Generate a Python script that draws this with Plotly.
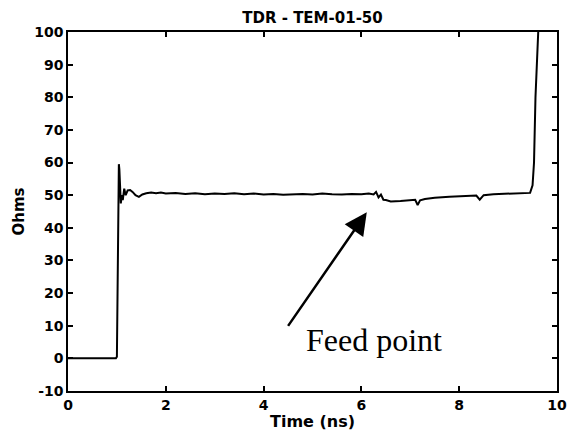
import plotly.graph_objects as go

time_ns = [0, 0.98, 1.0, 1.02, 1.04, 1.05, 1.06, 1.08, 1.10, 1.12, 1.15, 1.18, 1.22, 1.27, 1.32,
           1.38, 1.45, 1.52, 1.6, 1.7, 1.8, 1.9, 2.0, 2.2, 2.4, 2.6, 2.8, 3.0, 3.2, 3.4, 3.6,
           3.8, 4.0, 4.2, 4.4, 4.6, 4.8, 5.0, 5.2, 5.4, 5.6, 5.8, 6.0, 6.15, 6.25, 6.3, 6.35,
           6.4, 6.45, 6.5, 6.55, 6.6, 6.8, 7.0, 7.1, 7.15, 7.2, 7.3, 7.5, 7.8, 8.0, 8.2, 8.35,
           8.42, 8.5, 8.7, 9.0, 9.3, 9.45, 9.5, 9.53, 9.56, 9.6, 9.63]
ohms = [0, 0, 0.5, 40, 59.5, 58, 52, 47.5, 50, 48.5, 52, 50, 51.5, 51.6, 51, 50, 49.5, 50.2,
        50.6, 50.8, 50.6, 50.8, 50.5, 50.7, 50.4, 50.6, 50.3, 50.5, 50.4, 50.6, 50.3, 50.5,
        50.2, 50.4, 50.1, 50.3, 50.4, 50.2, 50.5, 50.3, 50.2, 50.4, 50.3, 50.5, 50.2, 51.0,
        49.3, 50.2, 48.6, 48.5, 48.2, 48.1, 48.2, 48.5, 48.6, 47.0, 48.4, 48.8, 49.2, 49.5,
        49.7, 49.9, 49.9, 48.6, 50.0, 50.3, 50.4, 50.5, 50.7, 53, 60, 80, 100, 105]

x_ticks = [0, 2, 4, 6, 8, 10]
y_ticks = [-10, 0, 10, 20, 30, 40, 50, 60, 70, 80, 90, 100]

fig = go.Figure()
fig.add_trace(go.Scatter(x=time_ns, y=ohms, mode="lines",
                         line=dict(color="black", width=2), showlegend=False))

fig.add_annotation(x=6.11, y=44.8, ax=4.48, ay=9.5, xref="x", yref="y", axref="x", ayref="y",
                   text="", showarrow=True, arrowhead=2, arrowsize=1.8, arrowwidth=2.5,
                   arrowcolor="black")
fig.add_annotation(x=6.26, y=5.5, xref="x", yref="y", text="Feed point", showarrow=False,
                   font=dict(family="Liberation Serif", size=32, color="black"))

tick_font = dict(family="DejaVu Sans", size=14, color="black")
label_font = dict(family="DejaVu Sans", size=15, color="black")
fig.update_layout(
    width=570, height=440,
    margin=dict(l=68, r=13, t=32, b=49),
    paper_bgcolor="white", plot_bgcolor="white",
    title=dict(text="<b>TDR - TEM-01-50</b>", x=(68 + 557) / 2 / 570, xanchor="center",
               y=1 - 18 / 440, yanchor="middle",
               font=dict(family="DejaVu Sans", size=15, color="black")),
    xaxis=dict(range=[0, 10], tickvals=x_ticks, ticktext=[f"<b>{v}</b>" for v in x_ticks],
               ticks="inside", ticklen=5, tickwidth=1.5, tickcolor="black",
               showline=True, linecolor="black", linewidth=1.5, mirror="ticks",
               showgrid=False, zeroline=False, tickfont=tick_font, automargin=False,
               title=dict(text="<b>Time (ns)</b>", font=dict(family="DejaVu Sans", size=16,
                                                            color="black"), standoff=4)),
    yaxis=dict(range=[-10, 100], tickvals=y_ticks, ticktext=[f"<b>{v}</b>" for v in y_ticks],
               ticks="inside", ticklen=5, tickwidth=1.5, tickcolor="black",
               showline=True, linecolor="black", linewidth=1.5, mirror="ticks",
               showgrid=False, zeroline=False, tickfont=tick_font, automargin=False,
               title=dict(text="<b>Ohms</b>", font=label_font, standoff=6)),
)

fig.write_html("out.html",
               config={"displayModeBar": False, "responsive": False},
               post_script="document.body.style.margin='0';document.body.style.overflow='hidden';")
